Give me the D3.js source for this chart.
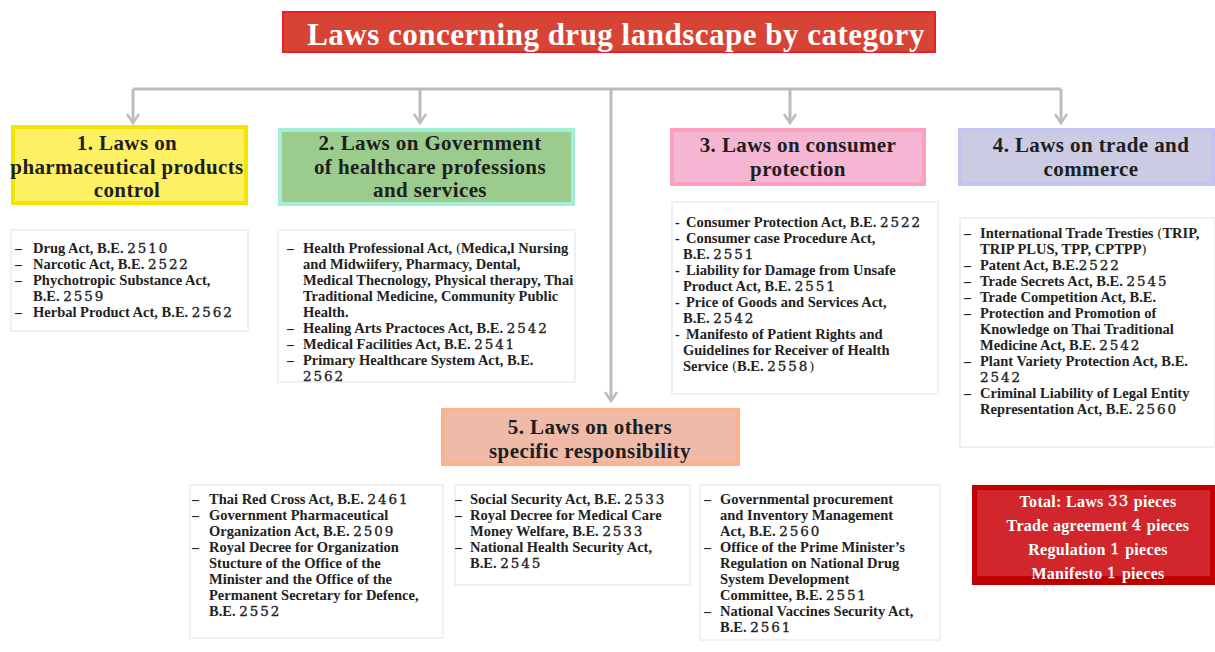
<!DOCTYPE html>
<html><head><meta charset="utf-8">
<script src="https://cdn.jsdelivr.net/npm/d3@7"></script>
<style>html,body{margin:0;padding:0;background:#fff;}svg{display:block;}</style>
</head><body>
<script>
// ---------- DATA ----------
const title = "Laws concerning drug landscape by category";
const categoryIds = ["c1","c2","c3","c4","c5"];
const categoryHeadings = [
  ["1. Laws on","pharmaceutical products","control"],
  ["2. Laws on Government","of healthcare professions","and services"],
  ["3. Laws on consumer","protection"],
  ["4. Laws on trade and","commerce"],
  ["5. Laws on others","specific responsibility"]
];
const list1 = [["Drug Act, B.E. 2510"],["Narcotic Act, B.E. 2522"],["Phychotropic Substance Act,","B.E. 2559"],["Herbal Product Act, B.E. 2562"]];
const list2 = [["Health Professional Act, (Medica,l Nursing","and Midwiifery, Pharmacy, Dental,","Medical Thecnology, Physical therapy, Thai","Traditional Medicine, Community Public","Health."],["Healing Arts Practoces Act, B.E. 2542"],["Medical Facilities Act, B.E. 2541"],["Primary Healthcare System Act, B.E.","2562"]];
const list3 = [["Consumer Protection Act, B.E. 2522"],["Consumer case Procedure Act,","B.E. 2551"],["Liability for Damage from Unsafe","Product Act, B.E. 2551"],["Price of Goods and Services Act,","B.E. 2542"],["Manifesto of Patient Rights and","Guidelines for Receiver of Health"," Service (B.E. 2558)"]];
const list4 = [["International Trade Tresties (TRIP,","TRIP PLUS, TPP, CPTPP)"],["Patent Act, B.E.2522"],["Trade Secrets Act, B.E. 2545"],["Trade Competition Act, B.E."],["Protection and Promotion of","Knowledge on Thai Traditional","Medicine Act, B.E. 2542"],["Plant Variety Protection Act, B.E.","2542"],["Criminal Liability of Legal Entity","Representation Act, B.E. 2560"]];
const list5a = [["Thai Red Cross Act, B.E. 2461"],["Government Pharmaceutical","Organization Act, B.E. 2509"],["Royal Decree for Organization","Stucture of the Office of the","Minister and the Office of the","Permanent Secretary for Defence,","B.E. 2552"]];
const list5b = [["Social Security Act, B.E. 2533"],["Royal Decree for Medical Care","Money Welfare, B.E. 2533"],["National Health Security Act,","B.E. 2545"]];
const list5c = [["Governmental procurement","and Inventory Management","Act, B.E. 2560"],["Office of the Prime Minister\u2019s","Regulation on National Drug","System Development","Committee, B.E. 2551"],["National Vaccines Security Act,","B.E. 2561"]];
const totalLabels = ["Total: Laws","Trade agreement","Regulation","Manifesto"];
const totalValues = [33, 4, 1, 1];

// ---------- LAYOUT ----------
const W = 1215, H = 652;
const svg = d3.select("body").append("svg").attr("width", W).attr("height", H);
const FONT = "'Liberation Serif','Times New Roman',serif";
const DIGITFONT = "'DejaVu Serif',serif";
const gray = "#bcbcbc";

function addText(sel, str, digitSize, digitSpacing, color){
  const parts = String(str).split(/(\d+|[()])/);
  parts.forEach(p=>{
    if(!p) return;
    const t = sel.append("tspan").text(p);
    if(/^\d+$/.test(p)) t.attr("font-family",DIGITFONT).attr("font-size",digitSize)
        .attr("font-weight","normal").attr("stroke",color).attr("stroke-width",0.35)
        .attr("letter-spacing",digitSpacing);
    else if(/^[()]$/.test(p)) t.attr("font-family",DIGITFONT).attr("font-size",digitSize).attr("font-weight","normal");
  });
}

// title
const tb = {x:282, y:11, w:654, h:42};
svg.append("rect").attr("x",tb.x).attr("y",tb.y).attr("width",tb.w).attr("height",tb.h).attr("fill","#ee1c24");
svg.append("rect").attr("x",tb.x+2).attr("y",tb.y+2).attr("width",tb.w-4).attr("height",tb.h-4).attr("fill","#d74436");
svg.append("text").attr("x",616).attr("y",34).attr("text-anchor","middle").attr("dominant-baseline","central")
  .attr("font-family",FONT).attr("font-weight","bold").attr("font-size",31).attr("letter-spacing",0.5)
  .attr("fill","#fff").text(title);

// connectors
const gC = svg.append("g").attr("stroke",gray).attr("stroke-width",3).attr("fill","none");
const busY = 89;
const xArrow = d3.scaleOrdinal().domain(["c1","c2","c3","c4"]).range([133,420,790,1061]);
gC.append("line").attr("x1",133).attr("x2",1061).attr("y1",busY).attr("y2",busY);
gC.append("line").attr("x1",611).attr("x2",611).attr("y1",busY).attr("y2",398);
function arrowHead(x, tipY){
  gC.append("path").attr("d",`M${x-6},${tipY-9}L${x},${tipY}L${x+6},${tipY-9}`).attr("stroke-width",2.5);
}
["c1","c2","c3","c4"].forEach(id=>{
  const x = xArrow(id);
  gC.append("line").attr("x1",x).attr("x2",x).attr("y1",busY).attr("y2",122);
  arrowHead(x,123);
});
arrowHead(611,401);

// headings
const heads = [
  {x:11,y:125,w:237,h:80,border:"#f3e500",fill:"#fdf163",ys:[143,167,190],cx:127},
  {x:278,y:128,w:297,h:78,border:"#a2eed6",fill:"#9ccb8e",ys:[143,167,190],cx:430},
  {x:670,y:128,w:256,h:58,border:"#fca0bd",fill:"#f4b6d2",ys:[145,169],cx:798},
  {x:958,y:128,w:257,h:58,border:"#c4c4f2",fill:"#cbcbe3",ys:[145,169],cx:1091},
  {x:441,y:408,w:299,h:58,border:"#f9b38e",fill:"#efbaa7",ys:[427,451],cx:590}
];
categoryIds.forEach((id,i)=>{
  const h = heads[i];
  const g = svg.append("g");
  g.append("rect").attr("x",h.x).attr("y",h.y).attr("width",h.w).attr("height",h.h).attr("fill",h.border);
  g.append("rect").attr("x",h.x+4).attr("y",h.y+4).attr("width",h.w-8).attr("height",h.h-8).attr("fill",h.fill);
  g.selectAll("text").data(categoryHeadings[i]).join("text")
    .attr("x",h.cx).attr("y",(d,j)=>h.ys[j]).attr("text-anchor","middle").attr("dominant-baseline","central")
    .attr("font-family",FONT).attr("font-weight","bold").attr("font-size",21).attr("letter-spacing",0.4)
    .attr("fill","#1e1e1e").text(d=>d);
});

// list boxes
const lists = [
  {items:list1, box:[11,230,237,101], dx:15, tx:33, y0:248, dash:"sep"},
  {items:list2, box:[278,230,297,152], dx:287, tx:303, y0:248, dash:"sep"},
  {items:list3, box:[672,202,266,192], dx:675, tx:686, cx:683, y0:222, dash:"inline"},
  {items:list4, box:[960,218,255,229], dx:964, tx:980, y0:233, dash:"sep"},
  {items:list5a, box:[190,485,253,153], dx:192, tx:209, y0:499, dash:"sep"},
  {items:list5b, box:[455,485,235,100], dx:455, tx:470, y0:499, dash:"sep"},
  {items:list5c, box:[700,485,240,155], dx:704, tx:720, y0:499, dash:"sep"}
];
const LH = 16;
const textColor = "#222";
lists.forEach(L=>{
  const g = svg.append("g");
  const [bx,by,bw,bh] = L.box;
  g.append("rect").attr("x",bx).attr("y",by).attr("width",bw).attr("height",bh)
    .attr("fill","#fff").attr("stroke","#eef0f5").attr("stroke-width",2);
  let row = 0;
  L.items.forEach(item=>{
    item.forEach((line,k)=>{
      const y = L.y0 + row*LH;
      if(k===0){
        g.append("text").attr("x",L.dx).attr("y",y).attr("dominant-baseline","central")
          .attr("font-family",FONT).attr("font-weight","bold").attr("font-size",14).attr("fill",textColor)
          .text(L.dash==="inline" ? "-" : "\u2013");
      }
      const x = (L.dash==="inline" && k>0) ? L.cx : L.tx;
      const t = g.append("text").attr("x",x).attr("y",y).attr("dominant-baseline","central")
        .attr("font-family",FONT).attr("font-weight","bold").attr("font-size",14.5).attr("fill",textColor);
      addText(t, line, 13.5, 1.9, textColor);
      row++;
    });
  });
});

// total box
const tot = {x:972,y:485,w:243,h:100};
svg.append("rect").attr("x",tot.x).attr("y",tot.y).attr("width",tot.w).attr("height",tot.h).attr("fill","#c00000");
svg.append("rect").attr("x",tot.x+5).attr("y",tot.y+5).attr("width",tot.w-10).attr("height",tot.h-14).attr("fill","#d0262c");
svg.selectAll("text.tot").data(totalLabels).join("text").attr("class","tot")
  .attr("x",1098).attr("y",(d,i)=>501+i*24).attr("text-anchor","middle").attr("dominant-baseline","central")
  .attr("font-family",FONT).attr("font-weight","bold").attr("font-size",16).attr("letter-spacing",0.3).attr("fill","#fff")
  .each(function(d,i){ addText(d3.select(this), `${d} ${totalValues[i]} pieces`, 15, 1.2, "#fff"); });
</script>
</body></html>
